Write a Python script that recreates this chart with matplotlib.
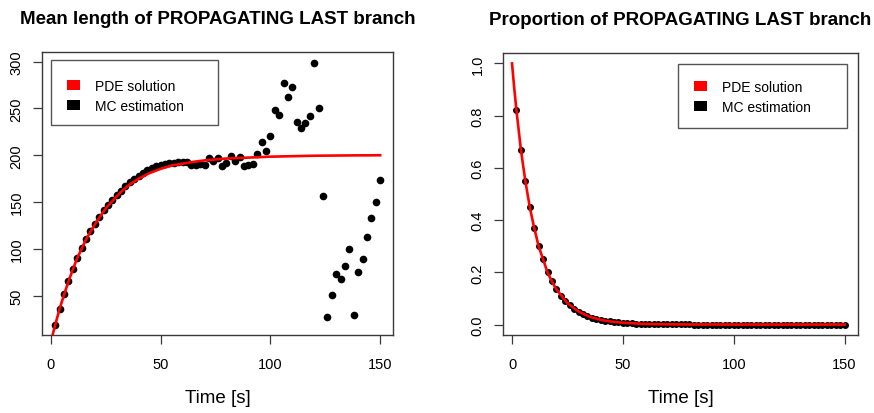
import numpy as np
import matplotlib
matplotlib.use('Agg')
import matplotlib.pyplot as plt
from matplotlib.patches import Patch, Rectangle

plt.rcParams['font.family'] = ['Liberation Sans', 'DejaVu Sans']

# MC estimation sampling times (s)
time = [2, 4, 6, 8, 10, 12, 14, 16, 18, 20, 22, 24, 26, 28, 30, 32, 34, 36, 38, 40,
        42, 44, 46, 48, 50, 52, 54, 56, 58, 60, 62, 64, 66, 68, 70, 72, 74, 76, 78, 80,
        82, 84, 86, 88, 90, 92, 94, 96, 98, 100, 102, 104, 106, 108, 110, 112, 114, 116,
        118, 120, 122, 124, 126, 128, 130, 132, 134, 136, 138, 140, 142, 144, 146, 148, 150]

# mean length, MC estimation
mc_length = [19, 36, 52, 65.5, 79, 90.5, 101, 110.5, 119, 127, 134.5, 141, 147, 152.5,
             157.5, 162, 167, 171, 174.5, 178, 181, 184.5, 186.5, 188.5, 189.5, 190.5,
             191.5, 192, 192.5, 192.5, 193, 189.5, 189.5, 190.5, 189.5, 197.5, 193.5, 197,
             188, 191.5, 199, 194, 198, 188, 189.5, 191, 201, 214.5, 204.5, 221, 248, 242.5,
             277, 262.5, 273, 235.5, 229.5, 234, 241.5, 299, 251, 156.5, 27, 51, 73, 67.5,
             82, 99.5, 29.5, 75, 89.5, 112.5, 132.5, 150, 174]

# mean length, PDE solution
pde_t_len = [0, 1, 2, 4, 6, 8, 10, 12, 14, 16, 18, 20, 22, 24, 26, 28, 30, 32, 34, 36, 38,
             40, 45, 50, 55, 60, 65, 70, 80, 90, 100, 110, 120, 130, 140, 150]
pde_length = [0, 10, 19, 36, 51, 65, 78, 90, 100, 110, 118, 126, 133, 140, 146, 151, 156,
              161, 165, 169, 172, 175, 181, 185.5, 189, 191, 193, 194.5, 196.5, 197.5,
              198.5, 199, 199.5, 199.7, 199.9, 200]

# proportion, MC estimation
mc_prop = [0.82, 0.67, 0.55, 0.45, 0.37, 0.30, 0.25, 0.20, 0.165, 0.135, 0.11, 0.09,
           0.075, 0.06, 0.05, 0.04, 0.033, 0.027, 0.022, 0.018, 0.015, 0.012, 0.010, 0.008,
           0.007, 0.0055, 0.0045, 0.0037, 0.003, 0.0025, 0.002, 0.0017, 0.0014, 0.0011,
           0.0009, 0.0007, 0.0006, 0.0005, 0.0004, 0.0003,
           0, 0, 0, 0, 0, 0, 0, 0, 0, 0, 0, 0, 0, 0, 0, 0, 0, 0, 0, 0, 0, 0, 0, 0, 0,
           0, 0, 0, 0, 0, 0, 0, 0, 0, 0]

# proportion, PDE solution
pde_t_prop = [0, 1, 2, 4, 6, 8, 10, 12, 14, 16, 18, 20, 25, 30, 35, 40, 45, 50, 60, 70,
              80, 100, 150]
pde_prop = [1.0, 0.905, 0.82, 0.67, 0.55, 0.45, 0.37, 0.30, 0.25, 0.20, 0.165, 0.135,
            0.082, 0.05, 0.03, 0.018, 0.011, 0.007, 0.0025, 0.0009, 0.0003, 0.00005, 0]

fig = plt.figure(figsize=(8.74, 4.14), dpi=100)
ax1 = fig.add_axes([0.0484, 0.1884, 0.4016, 0.6829])
ax2 = fig.add_axes([0.5759, 0.1884, 0.4055, 0.6812])

box_col = '#3a3a3a'


def style_axes(ax, title):
    for s in ax.spines.values():
        s.set_color(box_col)
        s.set_linewidth(1.0)
    ax.tick_params(length=6.5, width=0.9, color=box_col, labelsize=10.5)
    ax.tick_params(axis='x', pad=9.5)
    ax.tick_params(axis='y', pad=7, labelrotation=90)
    plt.setp(ax.get_yticklabels(), va='center')
    ax.set_xlabel('Time [s]', fontsize=13.5, labelpad=13)
    ax.set_title(title, fontsize=13.5, fontweight='bold', pad=21)


def add_legend(ax, frame, anchor):
    x0, y0, x1, y1 = frame
    ax.add_patch(Rectangle((x0, y0), x1 - x0, y1 - y0, transform=ax.transAxes,
                           fill=False, edgecolor='#555555', lw=1.0, clip_on=False, zorder=5))
    handles = [Patch(facecolor='red', edgecolor='none', label='PDE solution'),
               Patch(facecolor='black', edgecolor='none', label='MC estimation')]
    ax.legend(handles=handles, loc='upper left', bbox_to_anchor=anchor, frameon=False,
              fontsize=10, handlelength=0.95, handleheight=0.72, handletextpad=1.05,
              borderpad=0, borderaxespad=0, labelspacing=0.45)


# left panel
ax1.plot(time, mc_length, 'o', color='black', markersize=4.5, zorder=2)
ax1.plot(pde_t_len, pde_length, color='red', lw=1.9, zorder=3)
ax1.set_xlim(-3.9, 156)
ax1.set_ylim(8, 310)
ax1.set_xticks([0, 50, 100, 150])
ax1.set_yticks([50, 100, 150, 200, 250, 300])
style_axes(ax1, 'Mean length of PROPAGATING LAST branch')
add_legend(ax1, (0.0248, 0.743, 0.5014, 0.9728), (0.0712, 0.907))

# right panel
ax2.plot(time, mc_prop, 'o', color='black', markersize=4, zorder=2)
ax2.plot(pde_t_prop, pde_prop, color='red', lw=1.9, zorder=3)
ax2.set_xlim(-3.92, 155.92)
ax2.set_ylim(-0.04, 1.04)
ax2.set_xticks([0, 50, 100, 150])
ax2.set_yticks([0.0, 0.2, 0.4, 0.6, 0.8, 1.0])
ax2.set_yticklabels(['0.0', '0.2', '0.4', '0.6', '0.8', '1.0'])
style_axes(ax2, 'Proportion of PROPAGATING LAST branch')
add_legend(ax2, (0.4938, 0.733, 0.969, 0.961), (0.538, 0.905))

fig.savefig('out.png', dpi=100)
